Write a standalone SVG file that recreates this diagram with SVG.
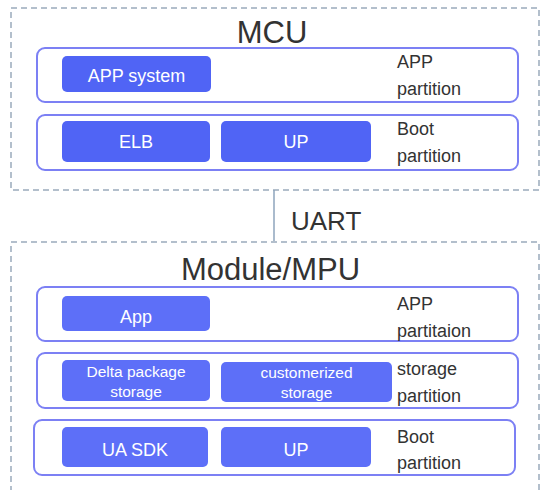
<svg xmlns="http://www.w3.org/2000/svg" width="541" height="490" viewBox="0 0 541 490">
<style>
.outer{fill:none;stroke:#b3bfcc;stroke-width:2;stroke-dasharray:6 4}
.part{fill:#fff;stroke:#7c80f4;stroke-width:2}
.blk1{fill:#5064f5}
.blk2{fill:#5d6ff8}
.wt{font-family:"Liberation Sans",Arial,sans-serif;fill:#fff;text-anchor:middle}
.lb{font-family:"Liberation Sans",Arial,sans-serif;fill:#333;font-size:18px}
.ttl{font-family:"Liberation Sans",Arial,sans-serif;fill:#333;text-anchor:middle;font-size:31px}
.uart{font-family:"Liberation Sans",Arial,sans-serif;fill:#333;font-size:26px}
.conn{stroke:#8ea4bd;stroke-width:1.5;fill:none}
</style>
<rect width="541" height="490" fill="#fff"/>
<g id="mcu">
<rect class="outer" x="11" y="8" width="528" height="182"/>
<text class="ttl" x="272" y="43">MCU</text>
</g>
<g id="mcu-app-partition">
<rect class="part" x="37" y="48" width="481" height="54" rx="8"/>
<text class="lb" x="397" y="68">APP</text>
<text class="lb" x="397" y="95">partition</text>
</g>
<g id="mcu-app-system">
<rect class="blk1" x="62" y="56" width="149" height="36" rx="5"/>
<text class="wt" x="136.5" y="82" font-size="18">APP system</text>
</g>
<g id="mcu-boot-partition">
<rect class="part" x="37" y="115" width="481" height="55" rx="8"/>
<text class="lb" x="397" y="135">Boot</text>
<text class="lb" x="397" y="162">partition</text>
</g>
<g id="mcu-elb">
<rect class="blk1" x="62" y="121" width="148" height="41" rx="5"/>
<text class="wt" x="136" y="148" font-size="18">ELB</text>
</g>
<g id="mcu-up">
<rect class="blk1" x="221" y="121" width="150" height="41" rx="5"/>
<text class="wt" x="296" y="148" font-size="18">UP</text>
</g>
<g id="connectors">
<line class="conn" x1="274" y1="190" x2="274" y2="242"/>
<text class="uart" x="291" y="230">UART</text>
</g>
<g id="mpu">
<rect class="outer" x="11" y="242" width="528" height="262"/>
<text class="ttl" x="270.5" y="280">Module/MPU</text>
</g>
<g id="mpu-app-partition">
<rect class="part" x="37" y="287" width="481" height="54" rx="8"/>
<text class="lb" x="397" y="310">APP</text>
<text class="lb" x="397" y="337">partitaion</text>
</g>
<g id="mpu-app">
<rect class="blk2" x="62" y="296" width="148" height="35" rx="5"/>
<text class="wt" x="136" y="323" font-size="18">App</text>
</g>
<g id="mpu-storage-partition">
<rect class="part" x="37" y="353" width="481" height="55" rx="8"/>
<text class="lb" x="397" y="375">storage</text>
<text class="lb" x="397" y="402">partition</text>
</g>
<g id="mpu-delta">
<rect class="blk2" x="62" y="360" width="148" height="41" rx="5"/>
<text class="wt" x="136" y="377" font-size="15.5">Delta package</text>
<text class="wt" x="136" y="397" font-size="15.5">storage</text>
</g>
<g id="mpu-custom">
<rect class="blk2" x="221" y="362" width="171" height="40" rx="5"/>
<text class="wt" x="306.5" y="378" font-size="15.5">customerized</text>
<text class="wt" x="306.5" y="398" font-size="15.5">storage</text>
</g>
<g id="mpu-boot-partition">
<rect class="part" x="34" y="420" width="481" height="55" rx="8"/>
<text class="lb" x="397" y="443">Boot</text>
<text class="lb" x="397" y="469">partition</text>
</g>
<g id="mpu-ua-sdk">
<rect class="blk2" x="62" y="427" width="146" height="40" rx="5"/>
<text class="wt" x="135" y="456" font-size="18">UA SDK</text>
</g>
<g id="mpu-up">
<rect class="blk2" x="221" y="427" width="150" height="40" rx="5"/>
<text class="wt" x="296" y="456" font-size="18">UP</text>
</g>
</svg>
